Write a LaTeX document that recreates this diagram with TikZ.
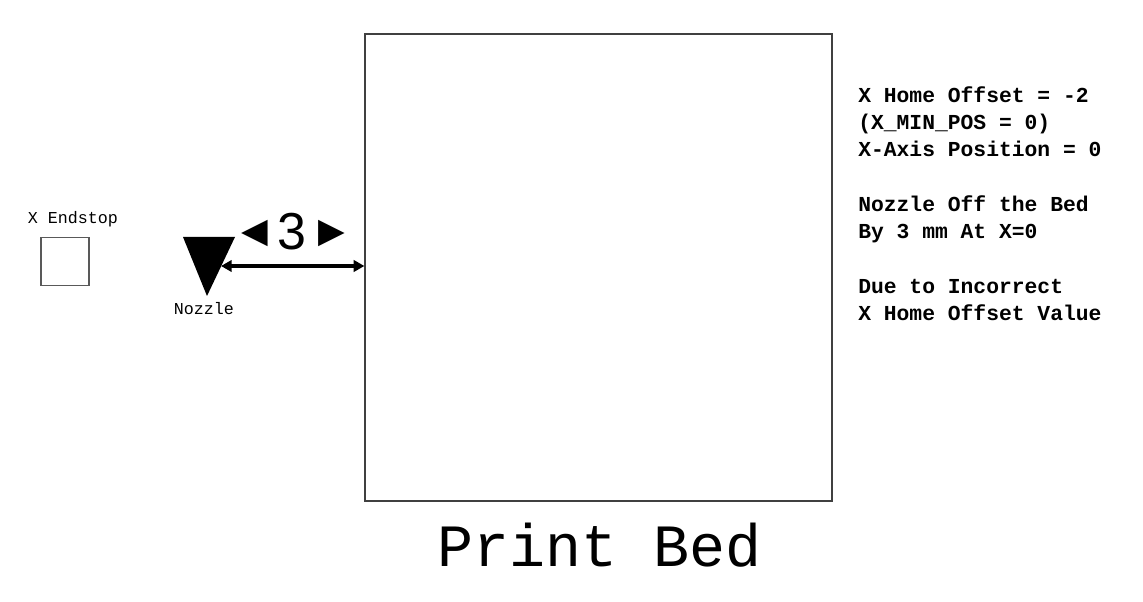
\documentclass[tikz,border=0pt]{standalone}
\usepackage{fontspec}
\setmonofont{Liberation Mono}
\newfontfamily\arialf{Liberation Sans}
\newfontfamily\symf{DejaVu Sans}
\usetikzlibrary{arrows.meta}
\tikzset{
  boxline/.style={draw=black!75, line width=0.9pt},
  smalltxt/.style={font=\ttfamily\fontsize{12.5}{15}\selectfont, inner sep=0pt},
  notetxt/.style={font=\ttfamily\bfseries\fontsize{16}{20.5}\selectfont, inner sep=0pt, align=left},
  dimarrow/.style={line width=2.6pt, {Triangle[length=8pt,width=8.5pt]}-{Triangle[length=8pt,width=8.5pt]}},
}
\begin{document}
\begin{tikzpicture}[x=0.75pt,y=-0.75pt]
\useasboundingbox (0,0) rectangle (1143,602);
\fill[white] (0,0) rectangle (1143,602);
% print bed
\node (bed) [boxline, minimum width=350.25pt, minimum height=350.25pt, inner sep=0pt] at (598.5,267.5) {};
\node (bedlabel) [font=\ttfamily\fontsize{45}{50}\selectfont, inner sep=0pt] at (600,545) {Print Bed};
% endstop
\node (endstop) [draw=black!65, line width=0.8pt, minimum width=36pt, minimum height=36.5pt, inner sep=0pt] at (65,261.5) {};
\node (eslabel) [smalltxt] at (73,219) {X Endstop};
% nozzle
\fill[black] (183,237) -- (235,237) -- (207,296) -- cycle;
\coordinate (nozzle) at (207,266);
\node (nozlabel) [smalltxt] at (204,309) {Nozzle};
% dimension
\coordinate (arrowL) at (221,266);
\draw[dimarrow] (arrowL) -- (bed.west |- arrowL);
\node (triL) [font=\symf\fontsize{26}{26}\selectfont, inner sep=0pt] at (254.5,233) {◀};
\node (three) [font=\arialf\fontsize{39}{40}\selectfont, inner sep=0pt] at (292,232) {3};
\node (triR) [font=\symf\fontsize{26}{26}\selectfont, inner sep=0pt] at (332,233) {▶};
% notes
\node (notes) [notetxt, anchor=north west] at (858,86) {X Home Offset = -2\\(X\_MIN\_POS = 0)\\X-Axis Position = 0\\[20.5pt]Nozzle Off the Bed\\By 3 mm At X=0\\[20.5pt]Due to Incorrect\\X Home Offset Value};
\end{tikzpicture}
\end{document}
